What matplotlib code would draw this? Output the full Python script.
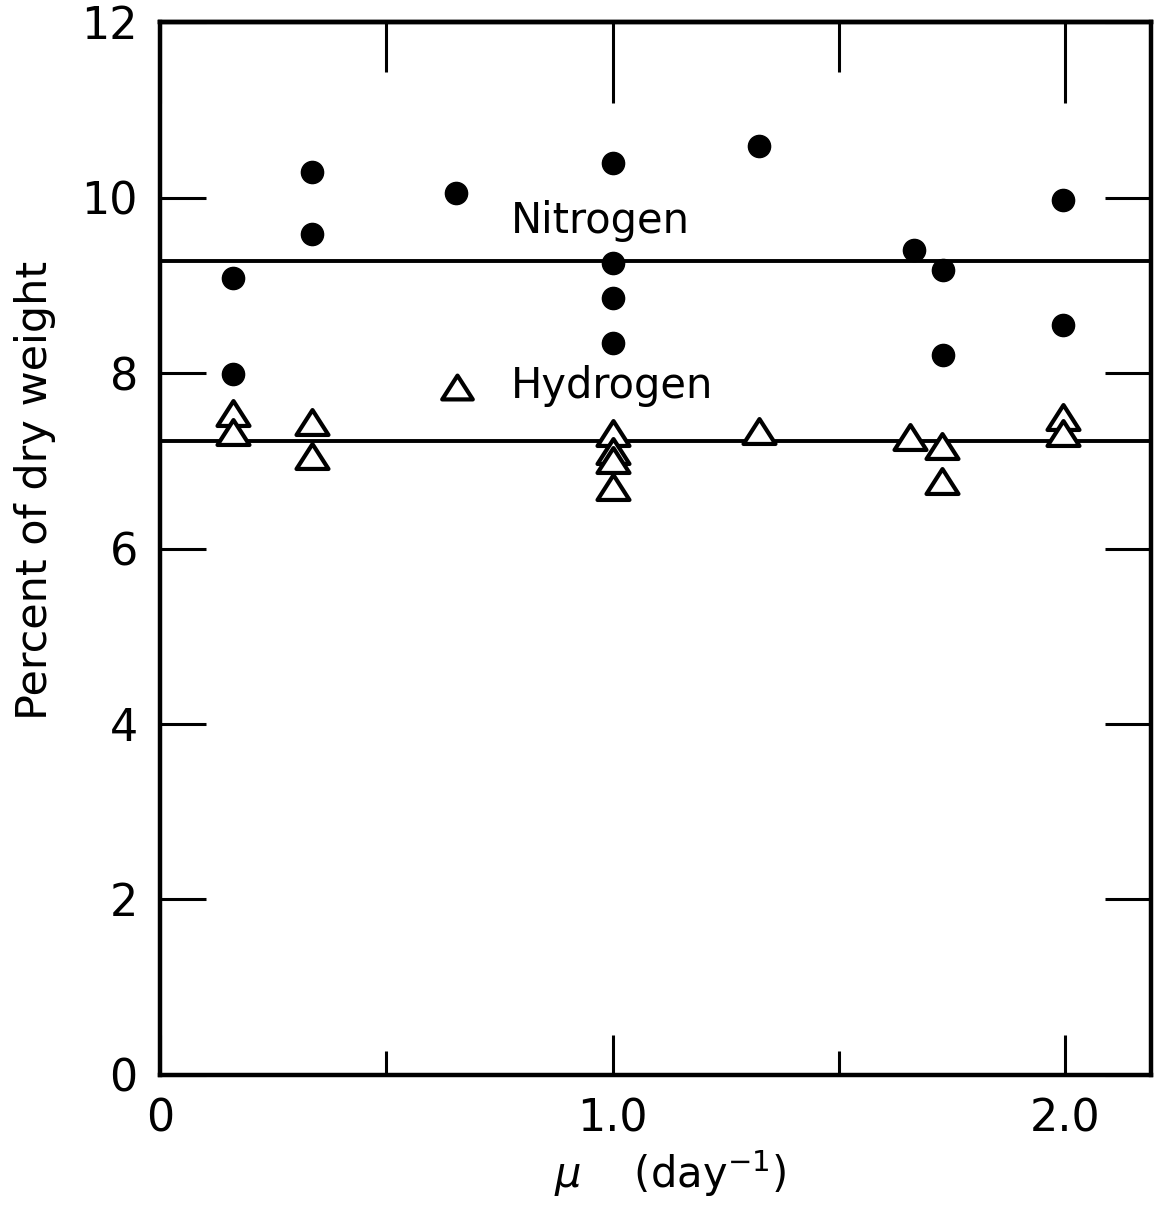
import matplotlib
matplotlib.use("Agg")
import matplotlib.pyplot as plt
from matplotlib.markers import MarkerStyle
from matplotlib.path import Path

# growth rate mu (day^-1) vs percent of dry weight
n_mu = [0.162, 0.162, 0.336, 0.336, 0.654, 1.0, 1.0, 1.0, 1.0, 1.323, 1.665, 1.73, 1.73, 1.996, 1.996]
n_pct = [9.08, 7.99, 10.29, 9.58, 10.05, 10.39, 9.25, 8.85, 8.34, 10.59, 9.40, 9.17, 8.20, 9.97, 8.55]

h_mu = [0.162, 0.162, 0.336, 0.336, 1.0, 1.0, 1.0, 1.0, 1.323, 1.658, 1.727, 1.727, 1.996, 1.996]
h_pct = [7.54, 7.33, 7.44, 7.05, 7.32, 7.11, 7.01, 6.70, 7.34, 7.27, 7.17, 6.77, 7.50, 7.32]

n_mean = 9.28
h_mean = 7.22

x_ticks = [0, 1.0, 2.0]
x_ticklabels = ["0", "1.0", "2.0"]
x_minor = [0.5, 1.5]
y_ticks = [0, 2, 4, 6, 8, 10, 12]

plt.rcParams["font.family"] = ["DejaVu Sans"]

# open triangle, a bit wider than tall, round corners
tri = MarkerStyle(Path([(-1, -0.78), (1, -0.78), (0, 0.78), (-1, -0.78)], closed=True),
                  joinstyle="round")

fig = plt.figure(figsize=(11.57, 12.05), dpi=100)
ax = fig.add_axes([0.1383, 0.1079, 0.8566, 0.8738])

ax.axhline(n_mean, color="black", linewidth=2.8, zorder=1)
ax.axhline(h_mean, color="black", linewidth=2.8, zorder=1)

ax.plot(n_mu, n_pct, "o", color="black", markersize=16, linestyle="none", zorder=3)
ax.plot(h_mu, h_pct, marker=tri, markerfacecolor="white", markeredgecolor="black",
        markersize=23, markeredgewidth=3, linestyle="none", zorder=3)

# in-plot labels
ax.text(0.776, 9.60, "Nitrogen", fontsize=30, ha="left", va="baseline")
ax.plot([0.656], [7.84], marker=tri, markerfacecolor="white", markeredgecolor="black",
        markersize=22, markeredgewidth=3, linestyle="none")
ax.text(0.776, 7.715, "Hydrogen", fontsize=30, ha="left", va="baseline")

ax.set_xlim(0, 2.19)
ax.set_ylim(0, 12)
ax.set_xticks(x_ticks)
ax.set_xticklabels(x_ticklabels)
ax.set_xticks(x_minor, minor=True)
ax.set_yticks(y_ticks)

for sp in ax.spines.values():
    sp.set_linewidth(3.2)

ax.tick_params(axis="both", which="major", direction="in", labelsize=32,
               width=2.2, pad=16)
ax.tick_params(axis="x", which="major", length=29)
ax.tick_params(axis="x", which="minor", direction="in", length=17, width=2.2)
ax.tick_params(axis="y", which="major", length=33, right=True)

top = ax.secondary_xaxis("top")
top.set_xticks(x_ticks)
top.set_xticks(x_minor, minor=True)
top.tick_params(which="major", direction="in", length=58, width=2.2, labeltop=False)
top.tick_params(which="minor", direction="in", length=36, width=2.2)
top.spines["top"].set_linewidth(3.2)

ax.set_ylabel("Percent of dry weight", fontsize=31)
ax.yaxis.set_label_coords(-0.105, 0.555)
ax.set_xlabel(r"$\mu$    (day$^{-1}$)", fontsize=30, labelpad=8)
ax.xaxis.set_label_coords(0.515, -0.07)

fig.savefig("out.png", dpi=100)
plt.close(fig)
